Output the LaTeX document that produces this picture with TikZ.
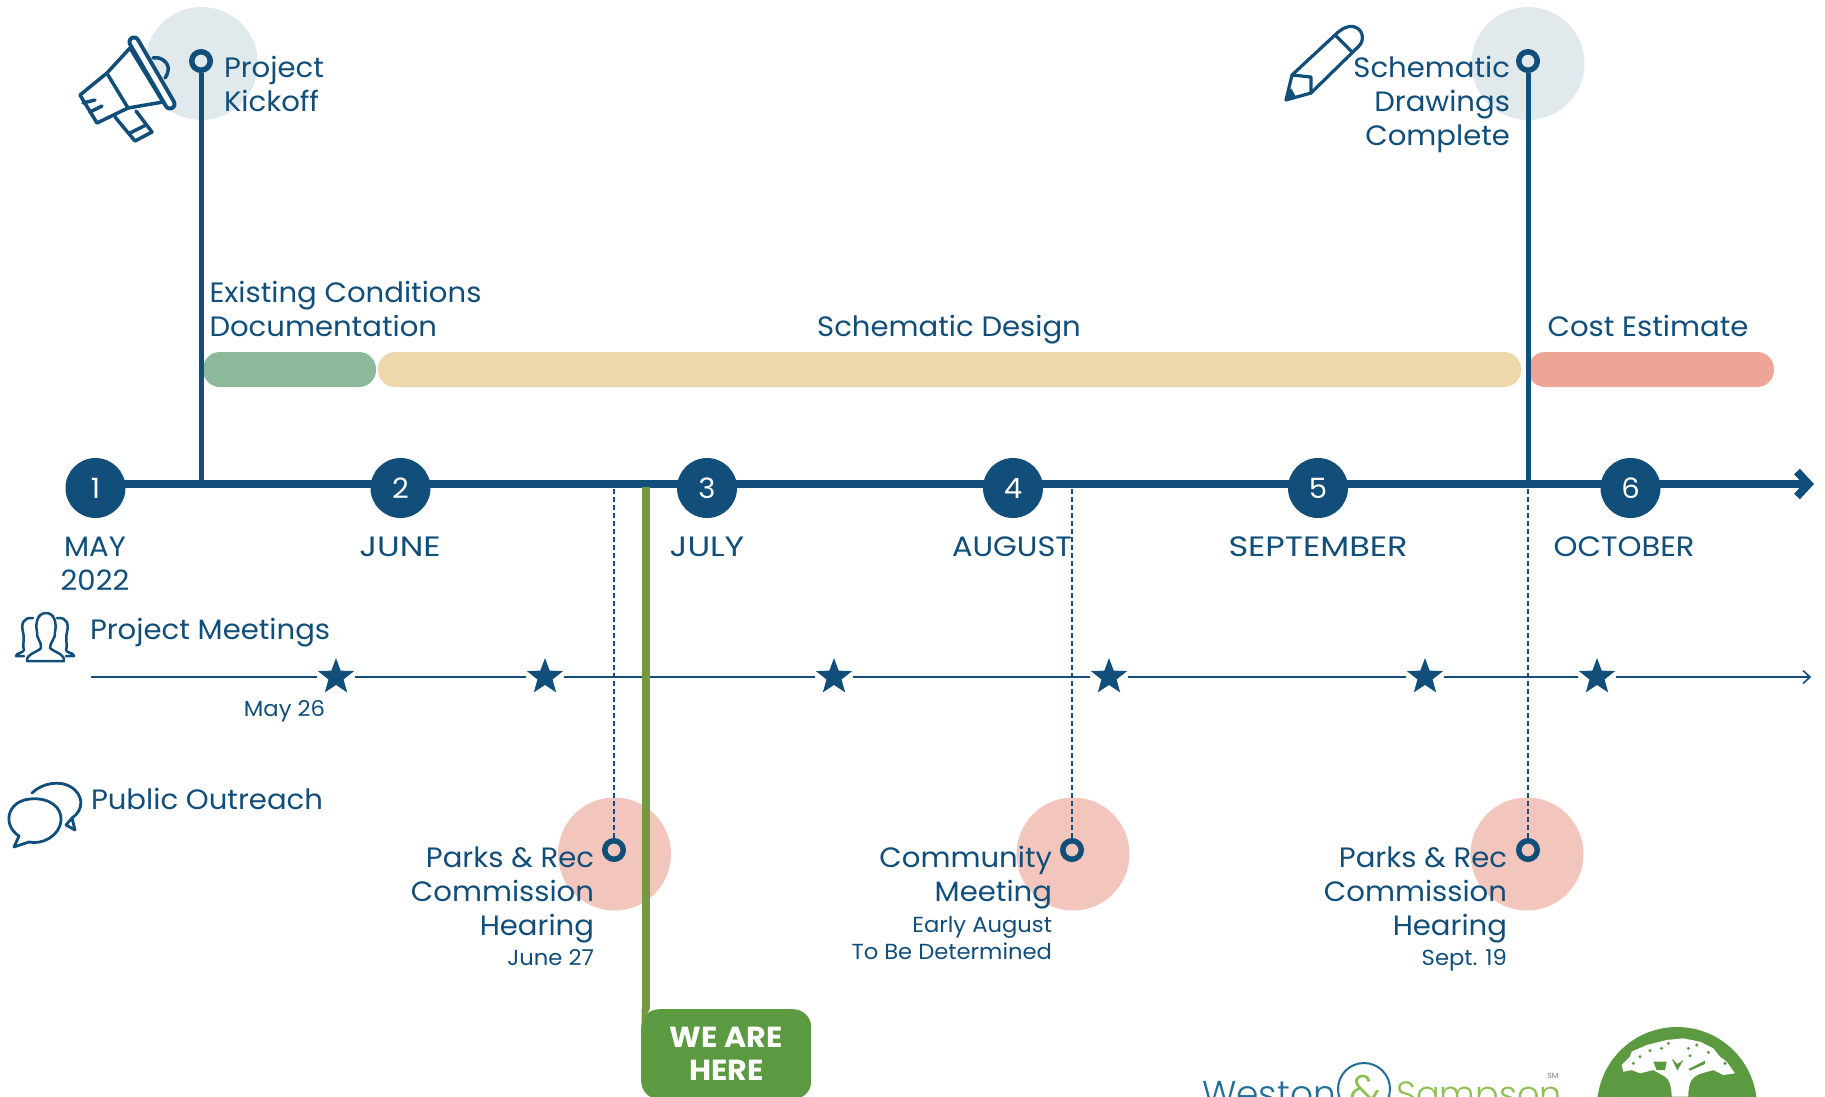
\documentclass[tikz,border=0pt]{standalone}
\usepackage{fontspec}
\setmainfont[FakeStretch=1.04]{Poppins}
\newfontfamily\logofont{Poppins Light}
\newfontfamily\capsfont[FakeStretch=1.2]{Poppins}
\newfontfamily\capsnarrow[FakeStretch=1.09]{Poppins}
\usetikzlibrary{shapes.geometric}
\definecolor{navy}{HTML}{114E7A}
\definecolor{greyc}{HTML}{E0E9EC}
\definecolor{pinkc}{HTML}{F3C6BD}
\definecolor{barg}{HTML}{8DB99B}
\definecolor{bart}{HTML}{EDD7AB}
\definecolor{bars}{HTML}{EDA595}
\definecolor{gline}{HTML}{739A3F}
\definecolor{gbox}{HTML}{5B9A41}
\definecolor{logob}{HTML}{1F6F97}
\definecolor{logog}{HTML}{8CC152}
\tikzset{
  lab/.style={inner sep=0pt,outer sep=0pt,text=navy,font=\fontsize{28}{34}\selectfont},
  caplab/.style={inner sep=0pt,outer sep=0pt,text=navy,font=\capsfont\fontsize{28}{34}\selectfont},
  capnar/.style={inner sep=0pt,outer sep=0pt,text=navy,font=\capsnarrow\fontsize{28}{34}\selectfont},
  smalllab/.style={inner sep=0pt,outer sep=0pt,text=navy,font=\fontsize{21.8}{27}\selectfont},
  num/.style={circle,fill=navy,minimum size=60pt,inner sep=0pt,text=white,font=\fontsize{28}{30}\selectfont},
  ring/.style={circle,draw=navy,line width=5.5pt,minimum size=18.5pt,inner sep=0pt,outer sep=2.7pt},
  halo/.style={circle,minimum size=113pt,inner sep=0pt},
  starm/.style={star,star points=5,star point ratio=2.4,fill=navy,minimum size=38pt,inner sep=0pt},
  stargap/.style={circle,fill=white,minimum size=38pt,inner sep=0pt},
  icon/.style={draw=navy,line width=3pt,line join=round,line cap=round},
  thinic/.style={draw=navy,line width=2.5pt,line join=round,line cap=round},
  axisl/.style={draw=navy,line width=8pt},
  stemw/.style={draw=navy,line width=5pt},
  dashl/.style={draw=navy,line width=1.6pt,dash pattern=on 5pt off 3pt},
}
\begin{document}
\begin{tikzpicture}[x=1pt,y=-1pt]
\clip (0,0) rectangle (1825,1096);
\fill[white] (0,0) rectangle (1825,1096);
% halos
\node[halo,fill=greyc] (h1) at (201.5,63.5) {};
\node[halo,fill=greyc] (h2) at (1528,63.5) {};
\node[halo,fill=pinkc] (h3) at (614.5,854) {};
\node[halo,fill=pinkc] (h4) at (1073,854) {};
\node[halo,fill=pinkc] (h5) at (1527,854) {};
% bars
\fill[barg,rounded corners=17pt] (203,352) rectangle (376,387);
\fill[bart,rounded corners=17pt] (378,352) rectangle (1521,387);
\fill[bars,rounded corners=17pt] (1528,352) rectangle (1774,387);
% axis
\coordinate (axs) at (95,484);
\coordinate (axe) at (1808,484);
\coordinate (ktop) at (201,484);
\coordinate (stop) at (1528,484);
\coordinate (ls) at (91,677);
\coordinate (le) at (1810,677);
\coordinate (d1) at (614,489);
\coordinate (d2) at (1072,489);
\coordinate (d3) at (1528,489);
\coordinate (gl) at (645.7,487);
% rings
\node[ring] (r1) at (201,61) {};
\node[ring] (r2) at (1528,61) {};
\node[ring] (r3) at (614,850) {};
\node[ring] (r4) at (1072,850) {};
\node[ring] (r5) at (1528,850) {};
\draw[stemw] (r1) -- (ktop);
\draw[stemw] (r2) -- (stop);
\draw[axisl] (axs) -- (axe);
\draw[navy,line width=8pt,miter limit=10] (1797,471.5) -- (1808.5,484) -- (1797,496.5);
% star line
\draw[navy,line width=1.6pt] (ls) -- (le);
\draw[navy,line width=1.6pt] (1803,670.5) -- (le) -- (1803,683.5);
\foreach \n/\x in {1/336,2/545,3/834,4/1109,5/1425,6/1597}{
  \node[stargap] at (\x,677) {};
  \node[starm] (st\n) at (\x,677) {};
}
\draw[dashl] (d1) -- (r3);
\draw[dashl] (d2) -- (r4);
\draw[dashl] (d3) -- (r5);
% month circles
\node[num] (m1) at (95.5,488) {1};
\node[num] (m2) at (400.5,488) {2};
\node[num] (m3) at (707,488) {3};
\node[num] (m4) at (1013,488) {4};
\node[num] (m5) at (1318,488) {5};
\node[num] (m6) at (1630.5,488) {6};
% we are here
\node[fill=gbox,rounded corners=18pt,minimum width=170pt,minimum height=90pt,inner sep=0pt,anchor=north west,text=white,align=center,font=\fontsize{29}{33}\bfseries\selectfont] (here) at (641,1009) {\raisebox{-1pt}{WE ARE}\\\raisebox{-1pt}{HERE}};
\draw[gline,line width=8pt] (gl) -- (here.north west -| gl);
\fill[gline] (641.7,1009) -- (649.7,1009) -- (641.7,1026) -- cycle;
% months
\node[lab,anchor=base,align=center] (tm1) at (95,590) {MAY\\2022};
\node[caplab,anchor=base] (tm2) at (400,556) {JUNE};
\node[caplab,anchor=base] (tm3) at (707,556) {JULY};
\node[capnar,anchor=base] (tm4) at (1012,556) {AUGUST};
\node[caplab,anchor=base] (tm5) at (1318,556) {SEPTEMBER};
\node[capnar,anchor=base] (tm6) at (1624,556) {OCTOBER};
% upper labels
\node[lab,anchor=base west,align=left] (t1) at (224,111) {Project\\Kickoff};
\node[lab,anchor=base east,align=right] (t2) at (1510,145) {Schematic\\Drawings\\Complete};
\node[lab,anchor=base west,align=left] (t3) at (209.5,336) {Existing Conditions\\Documentation};
\node[lab,anchor=base] (t4) at (949,336) {Schematic Design};
\node[lab,anchor=base] (t5) at (1648,336) {Cost Estimate};
% rows
\node[lab,anchor=base west] (t6) at (90,639) {Project Meetings};
\node[smalllab,anchor=base east] (t7) at (325,716) {May 26};
\node[lab,anchor=base west] (t8) at (91,809.5) {Public Outreach};
\node[lab,anchor=base east,align=right] (t9) at (594,935) {Parks \& Rec\\Commission\\Hearing};
\node[smalllab,anchor=base east] (t10) at (594,965) {June 27};
\node[lab,anchor=base east,align=right] (t11) at (1052,901) {Community\\Meeting};
\node[smalllab,anchor=base east,align=right] (t12) at (1052,959) {Early August\\To Be Determined};
\node[lab,anchor=base east,align=right] (t13) at (1507,935) {Parks \& Rec\\Commission\\Hearing};
\node[smalllab,anchor=base east] (t14) at (1507,965) {Sept. 19};
% megaphone
\draw[icon,line width=3.5pt] (153,58) .. controls (162,56) and (170,64) .. (168,71) .. controls (167,75) and (166,77) .. (165,78);
\path[icon,line width=3.5pt,fill=white] (130,48) -- (107,73) -- (80,95) -- (97,123) -- (128,108) -- (163,102) -- cycle;
\draw[icon,line width=3.5pt] (108,75) -- (128,108);
\draw[icon,line width=3.5pt] (83,103) -- (95,100);
\draw[icon,line width=3.5pt] (90,112) -- (102,106);
\path[icon,line width=3.5pt,fill=white] (115,117) -- (135,141) -- (152,132) -- (136,111);
\draw[icon,line width=3.5pt] (130,133) -- (146,125);
\draw[navy,line width=13pt,line cap=round] (134,42) -- (170,104);
\draw[white,line width=5pt,line cap=round] (134,42) -- (170,104);
% pencil
\draw[icon,line width=3.2pt] (1292,75) -- (1335,35) .. controls (1342,28) and (1350,24) .. (1357,28) .. controls (1364,32) and (1364,42) .. (1358,47) -- (1311,93) -- (1286,100) -- cycle;
\draw[icon,line width=3.2pt] (1335,35) -- (1352,52);
\draw[icon,line width=3.2pt] (1292,75) -- (1311,77) -- (1311,93);
\fill[navy] (1286,100) -- (1291,88) -- (1296,97) -- cycle;
% people
\draw[thinic] (27,661) .. controls (26,654) and (38,652) .. (41,648) .. controls (42,642) and (36,638) .. (37,632) .. controls (35,622) and (38,613) .. (46,613) .. controls (54,613) and (57,622) .. (55,632) .. controls (56,638) and (50,642) .. (50,648) .. controls (54,652) and (65,654) .. (64,661) -- cycle;
\draw[thinic] (33,618) .. controls (23,617) and (21,624) .. (23,632) .. controls (25,640) and (22,646) .. (24,650) .. controls (22,654) and (17,652) .. (16,656) -- (24,656);
\draw[thinic] (57,618) .. controls (67,617) and (69,624) .. (67,632) .. controls (65,640) and (68,646) .. (66,650) .. controls (68,654) and (73,652) .. (74,656) -- (66,656);
% bubbles
\draw[thinic,line width=2.8pt] (32,793) .. controls (42,783) and (60,780) .. (71,787) .. controls (84,795) and (84,810) .. (72,818) -- (66,825) -- (75,830) -- (72,818);
\draw[thinic,line width=2.8pt] (19,836) .. controls (2,825) and (7,801) .. (30,799) .. controls (50,797) and (62,808) .. (61,820) .. controls (60,836) and (42,845) .. (29,842) -- (14,847) -- cycle;
% logo
\node[inner sep=0pt,anchor=base west,text=logob,font=\logofont\fontsize{36}{40}\selectfont] (w) at (1202,1106) {Weston};
\node[circle,draw=logob,line width=2pt,minimum size=52pt,inner sep=0pt] (amp) at (1364,1089) {};
\node[inner sep=0pt,text=logog,font=\logofont\fontsize{44}{46}\selectfont] (ampt) at (1365,1091) {\&};
\node[inner sep=0pt,anchor=base west,text=logog,font=\logofont\fontsize{35}{40}\selectfont] (sa) at (1396,1106) {Sampson};
\node[inner sep=0pt,text=gray,font=\fontsize{7.5}{8}\selectfont] (sm) at (1553,1076) {SM};
% tree
\fill[gbox] (1677,1107) circle (80);
\begin{scope}[shift={(1590,1020)},x=0.3333pt,y=-0.3333pt]
\fill[white] (95,135) -- (120,110) -- (125,95) -- (170,75) -- (230,60) -- (280,55) -- (330,65) -- (370,85) -- (390,110) -- (410,125) -- (435,160) -- (400,165) -- (370,150) -- (335,160) .. controls (305,170) and (295,185) .. (295,230) -- (245,230) .. controls (245,195) and (235,175) .. (225,170) -- (190,150) -- (150,160) -- (125,150) -- (100,155) -- cycle;
\fill[gbox] (190,125) -- (230,125) -- (225,150) -- (200,150) -- cycle;
\fill[gbox] (245,115) -- (262,132) -- (280,120) -- (262,152) -- cycle;
\fill[gbox] (295,147) -- (345,122) -- (345,132) -- (300,152) -- cycle;
\foreach \p/\q in {180/92,215/85,235/70,295/85,320/75,355/97,150/110,130/130,405/130,300/107}{
  \fill[gbox] (\p,\q) circle (5);
}
\end{scope}
\end{tikzpicture}
\end{document}
